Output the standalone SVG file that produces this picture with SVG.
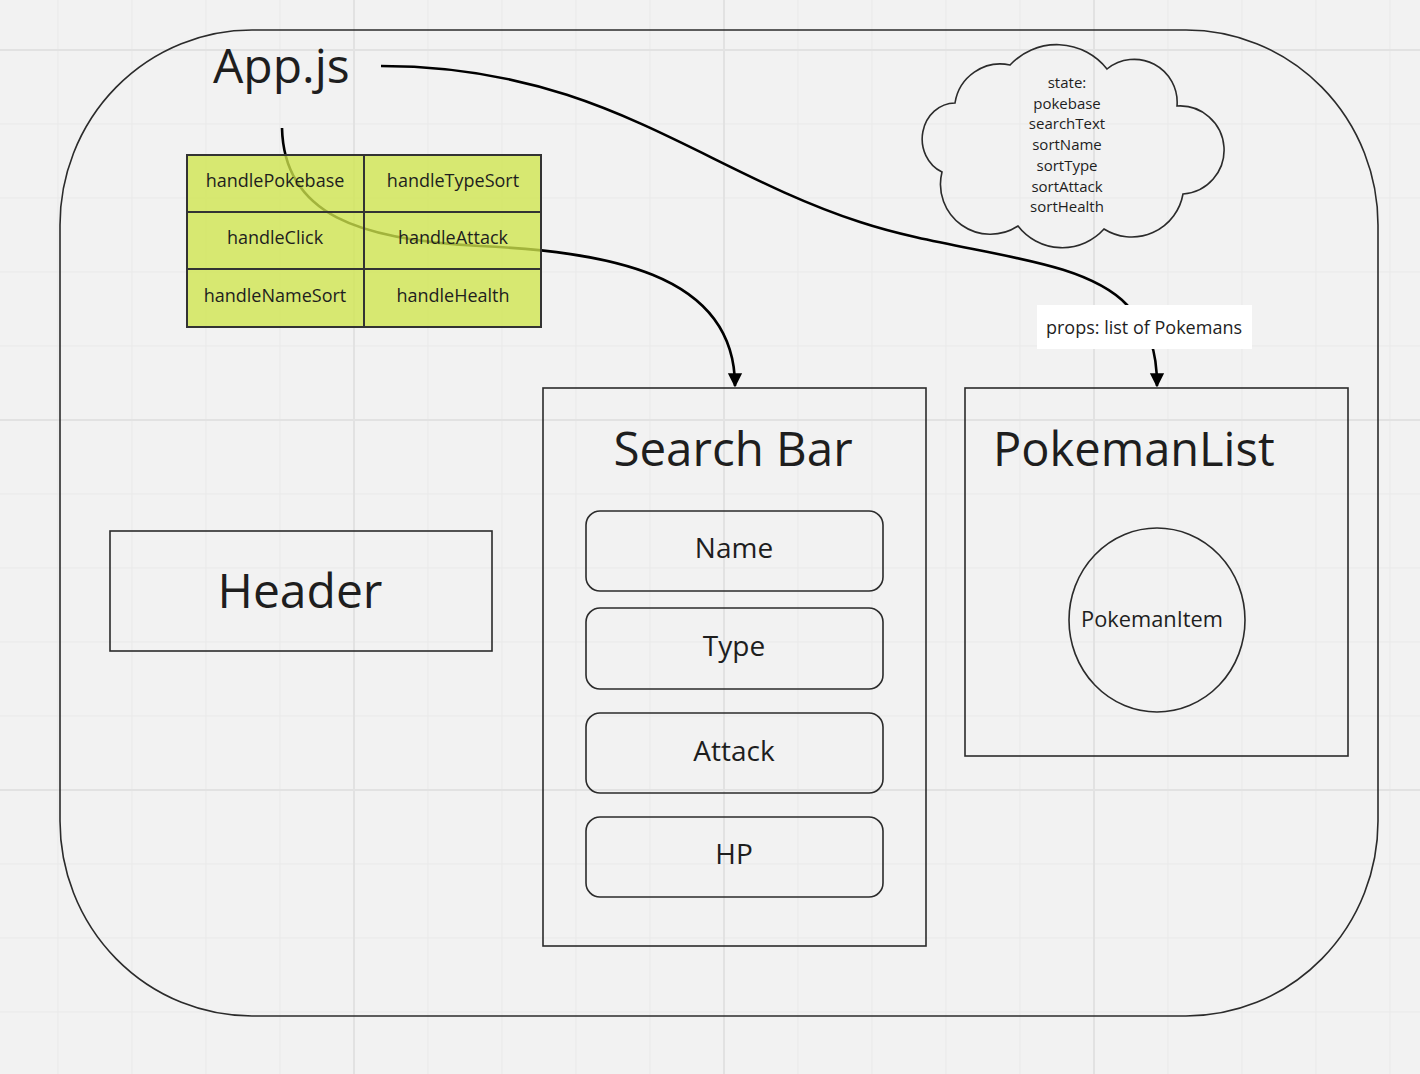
<svg xmlns="http://www.w3.org/2000/svg" width="1420" height="1074" viewBox="0 0 1420 1074">
<defs>
<style>
.t{font-family:"Open Sans","Noto Sans","Liberation Sans",sans-serif;fill:#1e1e1e}
.box{fill:none;stroke:#2b2b2b;stroke-width:1.6}
.cell{fill:#cfe64d;fill-opacity:0.78;stroke:#333;stroke-width:2}
.conn{fill:none;stroke:#000;stroke-width:2.6}
.gm{stroke:#e9e9e9;stroke-width:1}
.gM{stroke:#e2e2e2;stroke-width:2}
</style>
<marker id="arr" viewBox="0 0 10 10" refX="9" refY="5" markerWidth="5.5" markerHeight="6.5" markerUnits="strokeWidth" orient="auto">
<path d="M0,0 L10,5 L0,10 Z" fill="#000"/>
</marker>
</defs>
<rect width="1420" height="1074" fill="#f2f2f2"/>
<g id="grid">
<path class="gm" d="M58,0V1074M132,0V1074M206,0V1074M280,0V1074M428,0V1074M502,0V1074M576,0V1074M650,0V1074M798,0V1074M872,0V1074M946,0V1074M1020,0V1074M1168,0V1074M1242,0V1074M1316,0V1074M1390,0V1074"/>
<path class="gm" d="M0,124H1420M0,198H1420M0,272H1420M0,346H1420M0,494H1420M0,568H1420M0,642H1420M0,716H1420M0,864H1420M0,938H1420M0,1012H1420"/>
<path class="gM" d="M354,0V1074M724,0V1074M1094,0V1074M0,50H1420M0,420H1420M0,790H1420"/>
</g>
<g id="app">
<rect class="box" x="60" y="30" width="1318" height="986" rx="192" ry="195"/>
<text class="t" x="213" y="83" font-size="48">App.js</text>
</g>
<g id="state-cloud">
<path class="box" d="M955,103 A46,46 0 0 1 1010,65 A64,64 0 0 1 1107,69 A43,43 0 0 1 1177,106 A44,44 0 0 1 1183,194 A52,52 0 0 1 1104,229 A56,56 0 0 1 1018,226 A50,50 0 0 1 942,172 A33,36 0 0 1 955,103 Z"/>
<g class="t" font-size="15" text-anchor="middle">
<text x="1067" y="88">state:</text>
<text x="1067" y="109">pokebase</text>
<text x="1067" y="129">searchText</text>
<text x="1067" y="150">sortName</text>
<text x="1067" y="171">sortType</text>
<text x="1067" y="192">sortAttack</text>
<text x="1067" y="212">sortHealth</text>
</g>
</g>
<g id="connectors">
<path class="conn" d="M282,128 C284,215 360,240 480,246 C600,252 735,270 735,386" marker-end="url(#arr)"/>
<path class="conn" d="M381,66 C600,66 700,170 860,222 C960,255 1080,255 1127,305 C1150,330 1157,350 1157,386" marker-end="url(#arr)"/>
</g>
<g id="handlers">
<rect class="cell" x="187" y="155" width="177" height="57"/>
<rect class="cell" x="364" y="155" width="177" height="57"/>
<rect class="cell" x="187" y="212" width="177" height="57"/>
<rect class="cell" x="364" y="212" width="177" height="57"/>
<rect class="cell" x="187" y="269" width="177" height="58"/>
<rect class="cell" x="364" y="269" width="177" height="58"/>
<g class="t" font-size="18" text-anchor="middle">
<text x="275" y="187">handlePokebase</text>
<text x="453" y="187">handleTypeSort</text>
<text x="275" y="244">handleClick</text>
<text x="453" y="244">handleAttack</text>
<text x="275" y="302">handleNameSort</text>
<text x="453" y="302">handleHealth</text>
</g>
</g>
<g id="props-label">
<rect x="1037" y="305" width="215" height="44" fill="#ffffff"/>
<text class="t" x="1144" y="334" font-size="18" text-anchor="middle">props: list of Pokemans</text>
</g>
<g id="header">
<rect class="box" x="110" y="531" width="382" height="120"/>
<text class="t" x="300" y="608" font-size="48" text-anchor="middle">Header</text>
</g>
<g id="searchbar">
<rect class="box" x="543" y="388" width="383" height="558"/>
<text class="t" x="733" y="466" font-size="47.5" text-anchor="middle">Search Bar</text>
</g>
<g id="btn-name">
<rect class="box" x="586" y="511" width="297" height="80" rx="14"/>
<text class="t" x="734" y="558" font-size="28" text-anchor="middle">Name</text>
</g>
<g id="btn-type">
<rect class="box" x="586" y="608" width="297" height="81" rx="14"/>
<text class="t" x="734" y="656" font-size="28" text-anchor="middle">Type</text>
</g>
<g id="btn-attack">
<rect class="box" x="586" y="713" width="297" height="80" rx="14"/>
<text class="t" x="734" y="761" font-size="28" text-anchor="middle">Attack</text>
</g>
<g id="btn-hp">
<rect class="box" x="586" y="817" width="297" height="80" rx="14"/>
<text class="t" x="734" y="864" font-size="28" text-anchor="middle">HP</text>
</g>
<g id="pokemanlist">
<rect class="box" x="965" y="388" width="383" height="368"/>
<text class="t" x="993" y="466" font-size="47">PokemanList</text>
</g>
<g id="pokemanitem">
<ellipse class="box" cx="1157" cy="620" rx="88" ry="92"/>
<text class="t" x="1152" y="627" font-size="21.8" text-anchor="middle">PokemanItem</text>
</g>
</svg>
